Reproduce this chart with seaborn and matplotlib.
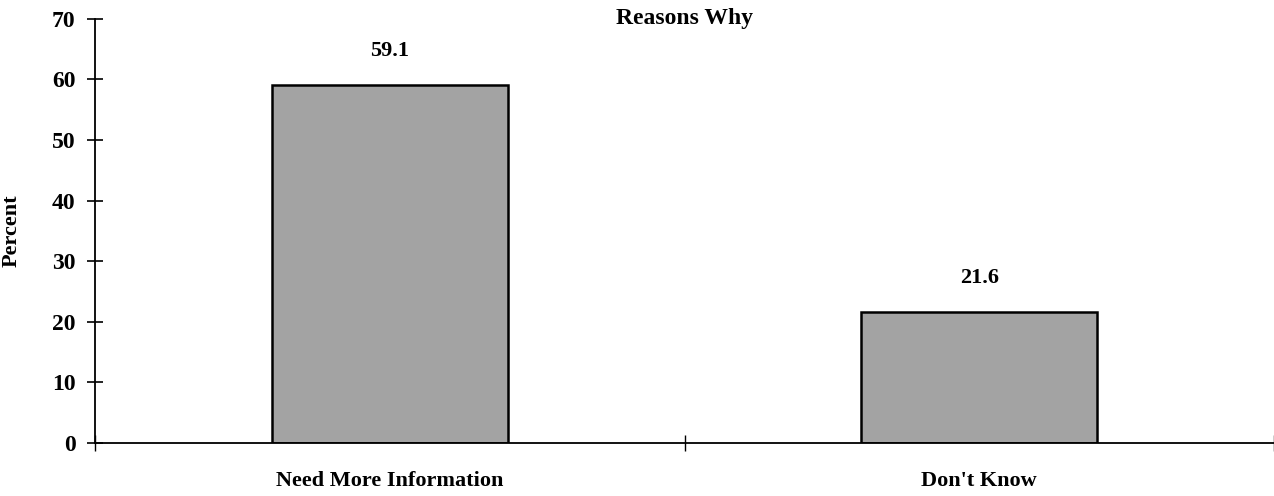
import matplotlib
matplotlib.use('Agg')
import matplotlib.pyplot as plt
import seaborn as sns
import pandas as pd
from matplotlib.ticker import FixedLocator

# data
categories = ['Need More Information', "Don't Know"]
percent = [59.1, 21.6]
y_ticks = [0, 10, 20, 30, 40, 50, 60, 70]

df = pd.DataFrame({'reason': categories, 'percent': percent})

sns.set_style('white', {'xtick.bottom': True, 'ytick.left': True,
                        'text.color': 'black', 'axes.labelcolor': 'black',
                        'xtick.color': 'black', 'ytick.color': 'black',
                        'axes.edgecolor': 'black'})
plt.rcParams['font.family'] = ['Liberation Serif', 'DejaVu Serif']
plt.rcParams['font.weight'] = 'bold'

fig = plt.figure(figsize=(12.74, 4.96), dpi=100)
ax = fig.add_axes([0.0746, 0.107, 0.9254, 0.855])

sns.barplot(data=df, x='reason', y='percent', color='#a3a3a3',
            edgecolor='black', linewidth=1.8, width=0.40, saturation=1, ax=ax)

for cont in ax.containers:
    ax.bar_label(cont, fmt='%.1f', padding=17, fontsize=16, fontweight='bold')

ax.set_xlim(-0.5, len(categories) - 0.5)
ax.set_ylim(0, 70)
ax.set_yticks(y_ticks)
ax.tick_params(axis='y', left=True, direction='inout', length=12, width=1.2,
               labelsize=17, pad=8)
ax.tick_params(axis='x', which='major', bottom=True, length=0, labelsize=16, pad=20)
ax.xaxis.set_minor_locator(FixedLocator([-0.5, 0.5, 1.5]))
ax.tick_params(axis='x', which='minor', bottom=True, direction='inout',
               length=12, width=1.0)
for lab in ax.get_xticklabels() + ax.get_yticklabels():
    lab.set_fontweight('bold')

ax.set_xlabel('')
ax.set_ylabel('Percent', fontsize=16, fontweight='bold', labelpad=22)

sns.despine(ax=ax, top=True, right=True)
ax.spines['left'].set_linewidth(1.3)
ax.spines['bottom'].set_linewidth(1.3)

ax.set_title('Reasons Why', fontsize=17, fontweight='bold', y=1.0, pad=-4)

fig.savefig('out.png', dpi=100)
